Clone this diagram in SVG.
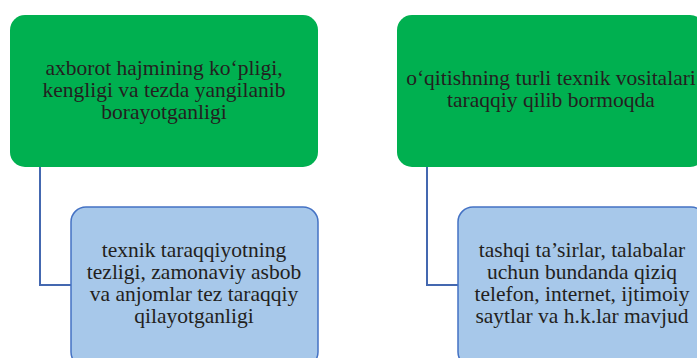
<svg xmlns="http://www.w3.org/2000/svg" width="697" height="358" viewBox="0 0 697 358">
<style>
.g{fill:#00B050;}
.b{fill:#A7C8EA;stroke:#4472C4;stroke-width:1.5;}
.t{font-family:"Liberation Serif","Times New Roman",serif;font-size:21.5px;fill:#231f20;text-anchor:middle;}
.c{fill:none;stroke:#4468B0;stroke-width:2;}
</style>
<rect width="697" height="358" fill="#fff"/>
<g id="connectors">
<path class="c" d="M40,167 V285 H71"/>
<path class="c" d="M427,167 V285 H458"/>
</g>
<g id="n1">
<rect class="g" x="10" y="15" width="308" height="152" rx="15"/>
<text class="t" x="164" y="75">axborot hajmining ko‘pligi,<tspan x="164" y="97">kengligi va tezda yangilanib</tspan><tspan x="164" y="119">borayotganligi</tspan></text>
</g>
<g id="n2">
<rect class="g" x="397" y="15" width="308" height="152" rx="15"/>
<text class="t" x="551" y="85">o‘qitishning turli texnik vositalari<tspan x="551" y="107">taraqqiy qilib bormoqda</tspan></text>
</g>
<g id="n3">
<rect class="b" x="71" y="207" width="247" height="160" rx="15"/>
<text class="t" x="194" y="257">texnik taraqqiyotning<tspan x="194" y="279">tezligi, zamonaviy asbob</tspan><tspan x="194" y="301">va anjomlar tez taraqqiy</tspan><tspan x="194" y="323">qilayotganligi</tspan></text>
</g>
<g id="n4">
<rect class="b" x="458" y="207" width="248" height="160" rx="15"/>
<text class="t" x="582" y="257">tashqi ta’sirlar, talabalar<tspan x="582" y="279">uchun bundanda qiziq</tspan><tspan x="582" y="301">telefon, internet, ijtimoiy</tspan><tspan x="582" y="323">saytlar va h.k.lar mavjud</tspan></text>
</g>
</svg>
